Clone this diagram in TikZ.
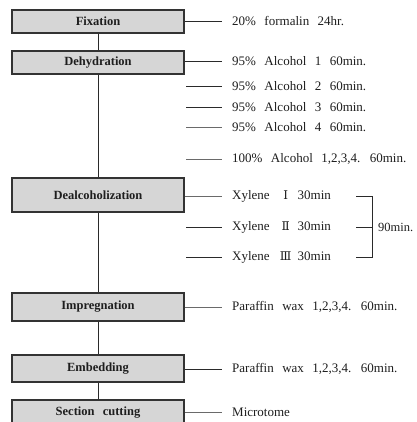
\documentclass[tikz,border=0pt]{standalone}
\usepackage{fontspec}
\setmainfont{Liberation Serif}
\newfontfamily\labfont[WordSpace=2.6]{Liberation Serif}
\newfontfamily\romfont{DejaVu Serif}
\definecolor{boxfill}{HTML}{D6D6D6}
\definecolor{boxline}{HTML}{333333}
\definecolor{conn}{HTML}{2A2A2A}
\definecolor{connlight}{HTML}{6A6A6A}
\definecolor{txt}{HTML}{1E1E1E}
\newcommand{\romnum}[1]{\hspace{4pt}\makebox[24pt][c]{\romfont\fontsize{12}{14}\selectfont #1}}
\tikzset{
  stepbox/.style={draw=boxline, line width=1.1pt, fill=boxfill, minimum width=172pt,
    inner sep=0pt, font=\labfont\fontsize{12.5}{14}\selectfont\bfseries, text=txt},
  info/.style={anchor=west, inner xsep=10pt, inner ysep=0pt, font=\labfont\fontsize{13}{15}\selectfont, text=txt},
  link/.style={draw=conn, line width=0.8pt},
  linklight/.style={draw=connlight, line width=0.9pt},
}
\begin{document}
\begin{tikzpicture}[x=1pt,y=-1pt]
\useasboundingbox (0,0) rectangle (416,422);
\clip (0,0) rectangle (416,422);
\fill[white] (0,0) rectangle (416,422);
% boxes
\node[stepbox, minimum height=23pt] (fix) at (98,21.5) {Fixation};
\node[stepbox, minimum height=23pt] (deh) at (98,62.5) {Dehydration};
\node[stepbox, minimum height=34pt] (dea) at (98,195) {Dealcoholization};
\node[stepbox, minimum height=28pt] (imp) at (98,307) {Impregnation};
\node[stepbox, minimum height=27pt] (emb) at (98,368.5) {Embedding};
\node[stepbox, minimum height=25pt] (sec) at (98,412.5) {Section cutting};
% vertical connectors
\draw[link] (fix) -- (deh);
\draw[link] (deh) -- (dea);
\draw[link] (dea) -- (imp);
\draw[link] (imp) -- (emb);
\draw[link] (emb) -- (sec);
% info texts
\node[info] (t1) at (222,21) {20\% formalin 24hr.};
\node[info] (t2) at (222,61) {95\% Alcohol 1 60min.};
\node[info] (t3) at (222,86) {95\% Alcohol 2 60min.};
\node[info] (t4) at (222,107) {95\% Alcohol 3 60min.};
\node[info] (t5) at (222,127) {95\% Alcohol 4 60min.};
\node[info] (t6) at (222,159) {100\% Alcohol 1,2,3,4. 60min.};
\node[info] (x1) at (222,196) {Xylene\romnum{Ⅰ}30min};
\node[info] (x2) at (222,227) {Xylene\romnum{Ⅱ}30min};
\node[info] (x3) at (222,257) {Xylene\romnum{Ⅲ}30min};
\node[info] (p1) at (222,307) {Paraffin wax 1,2,3,4. 60min.};
\node[info] (p2) at (222,369) {Paraffin wax 1,2,3,4. 60min.};
\node[info] (m1) at (222,412) {Microtome};
% free starts
\coordinate (s3) at (186,86);
\coordinate (s4) at (186,107);
\coordinate (s5) at (186,127);
\coordinate (s6) at (186,159);
\coordinate (sx2) at (186,227);
\coordinate (sx3) at (186,257);
% horizontal connectors
\draw[link] (fix.east |- t1) -- (t1.west);
\draw[link] (deh.east |- t2) -- (t2.west);
\draw[link] (s3) -- (t3.west);
\draw[link] (s4) -- (t4.west);
\draw[linklight] (s5) -- (t5.west);
\draw[linklight] (s6) -- (t6.west);
\draw[linklight] (dea.east |- x1) -- (x1.west);
\draw[link] (sx2) -- (x2.west);
\draw[link] (sx3) -- (x3.west);
\draw[linklight] (imp.east |- p1) -- (p1.west);
\draw[link] (emb.east |- p2) -- (p2.west);
\draw[linklight] (sec.east |- m1) -- (m1.west);
% bracket
\coordinate (b1) at (356,196);
\coordinate (b2) at (356,227);
\coordinate (b3) at (356,257);
\node[anchor=west, inner sep=0pt, font=\labfont\fontsize{12.5}{14}\selectfont, text=txt] (tot) at (378,227) {90min.};
\draw[link] (b1) -- (372,196) -- (372,257) -- (b3);
\draw[link] (b2) -- (tot.west -| 372,0);
\end{tikzpicture}
\end{document}
